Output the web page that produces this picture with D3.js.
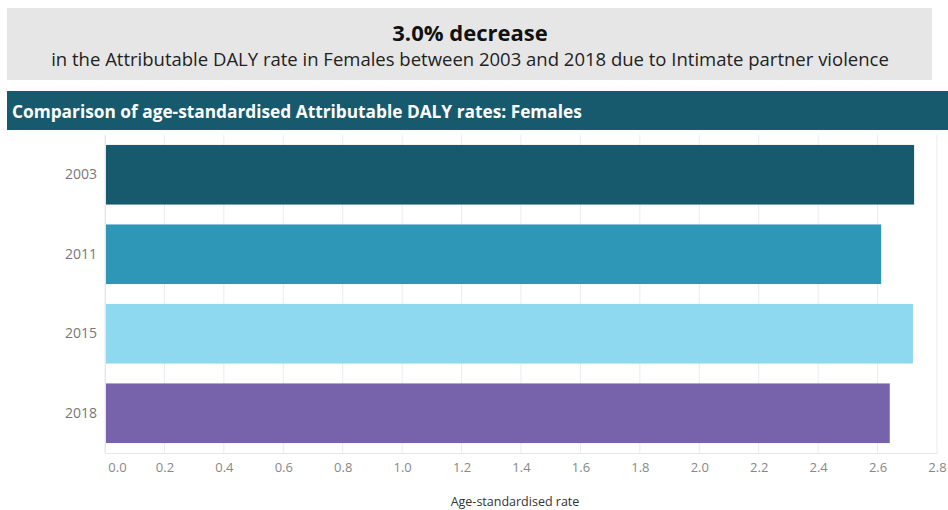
<!DOCTYPE html>
<html lang="en">
<head>
<meta charset="utf-8">
<title>Attributable DALY rates: Females</title>
<script src="https://cdn.jsdelivr.net/npm/d3@7"></script>
<style>
  body { margin: 0; background: #fff; }
  svg text { font-family: "Open Sans", sans-serif; }
  .axis path, .axis line { stroke: #e6e6e6; }
  .axis text { fill: #888; font-size: 13px; }
  .yaxis text { font-size: 14px; fill: #777; }
</style>
</head>
<body>
<script>
// data
var years = ["2003", "2011", "2015", "2018"];
var rates = [2.723, 2.612, 2.719, 2.641];
var barColors = ["#175a6e", "#2e97b8", "#8ed8f0", "#7762ac"];
var xTicks = [0, 0.2, 0.4, 0.6, 0.8, 1.0, 1.2, 1.4, 1.6, 1.8, 2.0, 2.2, 2.4, 2.6, 2.8];
var headline = "3.0% decrease";
var subline = "in the Attributable DALY rate in Females between 2003 and 2018 due to Intimate partner violence";
var panelTitle = "Comparison of age-standardised Attributable DALY rates: Females";
var xTitle = "Age-standardised rate";

var w = 948, h = 510;
var plotLeft = 105, plotRight = 937, plotTop = 135, plotBottom = 453;

var svg = d3.select("body").append("svg")
  .attr("width", w)
  .attr("height", h);

// header box
svg.append("rect")
  .attr("x", 7).attr("y", 8).attr("width", 925).attr("height", 72)
  .attr("fill", "#e6e6e6");
svg.append("text")
  .attr("x", 470).attr("y", 41)
  .attr("text-anchor", "middle")
  .attr("font-size", 22).attr("font-weight", "bold").attr("fill", "#111")
  .text(headline);
svg.append("text")
  .attr("x", 470).attr("y", 66)
  .attr("text-anchor", "middle")
  .attr("font-size", 18.5).attr("fill", "#222")
  .text(subline);

// panel title bar
svg.append("rect")
  .attr("x", 7).attr("y", 91).attr("width", 941).attr("height", 39)
  .attr("fill", "#175a6e");
svg.append("text")
  .attr("x", 12).attr("y", 118)
  .attr("font-size", 17.3).attr("font-weight", "bold").attr("fill", "#fff")
  .text(panelTitle);

var xScale = d3.scaleLinear().domain([0, 2.8]).range([plotLeft, plotRight]);
var yScale = d3.scaleBand().domain(years).range([plotTop, plotBottom])
  .paddingInner(0.25).paddingOuter(0.125);

// gridlines
svg.append("g")
  .selectAll("line")
  .data(xTicks)
  .enter()
  .append("line")
  .attr("x1", function(d) { return xScale(d); })
  .attr("x2", function(d) { return xScale(d); })
  .attr("y1", plotTop).attr("y2", plotBottom)
  .attr("stroke", "#ebebeb");

// bars
svg.selectAll("rect.bar")
  .data(rates)
  .enter()
  .append("rect")
  .attr("class", "bar")
  .attr("x", xScale(0))
  .attr("y", function(d, i) { return yScale(years[i]); })
  .attr("width", function(d) { return xScale(d) - xScale(0); })
  .attr("height", yScale.bandwidth())
  .attr("fill", function(d, i) { return barColors[i]; });

// x axis
var xAxis = d3.axisBottom(xScale)
  .tickValues(xTicks)
  .tickSize(0)
  .tickPadding(10)
  .tickFormat(d3.format(".1f"));
var gx = svg.append("g")
  .attr("class", "axis")
  .attr("transform", "translate(0," + plotBottom + ")")
  .call(xAxis);
gx.select(".domain").attr("stroke", "#e6e6e6");
gx.selectAll(".tick text").filter(function(d) { return d === 0; }).attr("dx", 12);

// y axis
var yAxis = d3.axisLeft(yScale).tickSize(0).tickPadding(8);
var gy = svg.append("g")
  .attr("class", "axis yaxis")
  .attr("transform", "translate(" + plotLeft + ",0)")
  .call(yAxis);
gy.select(".domain").attr("stroke", "#e6e6e6");

svg.append("text")
  .attr("x", 515).attr("y", 506)
  .attr("text-anchor", "middle")
  .attr("font-size", 12.5).attr("fill", "#333")
  .text(xTitle);
</script>
</body>
</html>
